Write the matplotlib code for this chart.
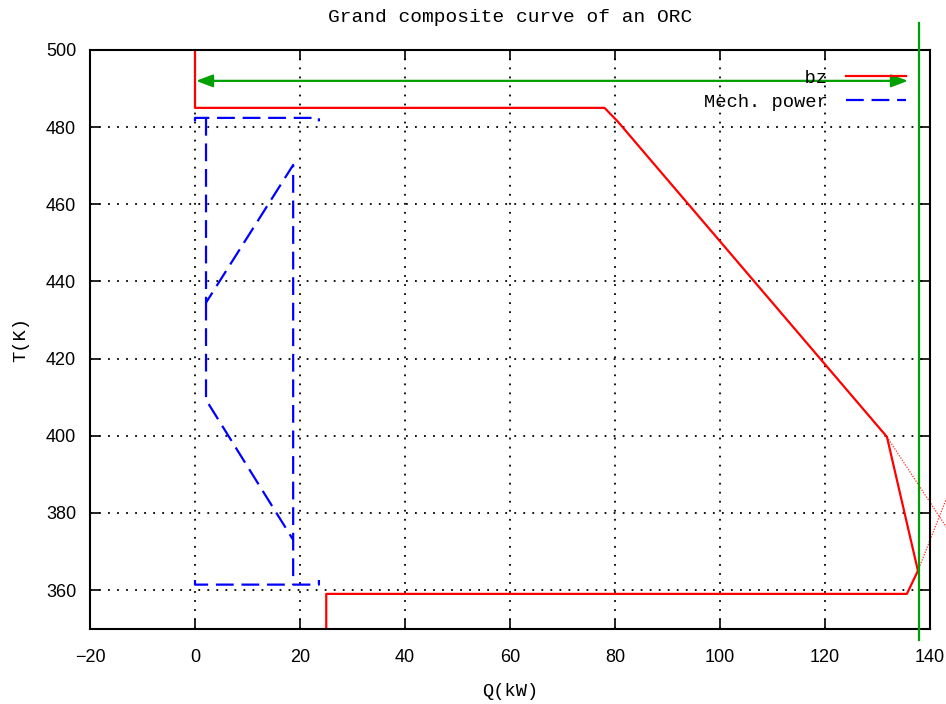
import numpy as np
import matplotlib
matplotlib.use("Agg")
import matplotlib.pyplot as plt

# ---- data ----
red_q = [0, 0, 78, 80.5, 131.8, 137.7, 135.6, 25, 25]
red_T = [500, 485, 485, 481.5, 399.7, 365.0, 359.0, 359.0, 350]

mech_q = [0, 0, 23.6, 23.6, np.nan,
          2.1, 2.1, 18.7, 18.7, np.nan,
          2.1, 2.1, 18.7, np.nan,
          0, 0, 23.6, 23.6]
mech_T = [481.5, 482.4, 482.4, 481.5, np.nan,
          482.4, 434.5, 470.2, 361.4, np.nan,
          434.5, 409.3, 373.0, np.nan,
          362.6, 361.4, 361.4, 362.6]

aux1_q = [131.8, 143.5]
aux1_T = [399.7, 375.5]
aux2_q = [137.7, 143.5]
aux2_T = [365.0, 385.0]

pinch_q = 137.9
pinch_T = [347, 507]
arrow_q = [0.2, 135.8]
arrow_T = 492

xticks = [-20, 0, 20, 40, 60, 80, 100, 120, 140]
yticks = [360, 380, 400, 420, 440, 460, 480, 500]

mono = "Liberation Mono"
sans = "Liberation Sans"

fig = plt.figure(figsize=(9.46, 7.04), dpi=100)
ax = fig.add_axes([90/946, 1-628.6/704, 840/946, 578.6/704])

ax.set_xlim(-20, 140)
ax.set_ylim(350, 500)
ax.set_xticks(xticks)
ax.set_yticks(yticks)
ax.set_xticklabels([str(v).replace('-', '\u2212') for v in xticks], fontfamily=sans, fontsize=13)
ax.set_yticklabels([str(v) for v in yticks], fontfamily=sans, fontsize=13)
ax.tick_params(direction='in', length=7, width=1.2, top=True, right=True, color='black')
ax.tick_params(axis='x', pad=15)
ax.tick_params(axis='y', pad=10)
ax.grid(True, color='black', linestyle=(0, (1, 4)), linewidth=1.3)
for s in ax.spines.values():
    s.set_linewidth(1.5)
    s.set_zorder(5)

ax.plot(red_q, red_T, color='#ff0000', lw=1.6, label='      bz', zorder=3)
ax.plot(mech_q, mech_T, color='#0000ff', lw=1.6, linestyle=(0, (8, 3.5)), label='Mech. power', zorder=3)

ax.plot(aux1_q, aux1_T, color='#ff0000', lw=0.9, linestyle=(0, (1, 1.2)), alpha=0.85, clip_on=False)
ax.plot(aux2_q, aux2_T, color='#ff0000', lw=0.9, linestyle=(0, (1, 1.2)), alpha=0.85, clip_on=False)

ax.plot([pinch_q, pinch_q], pinch_T, color='#00a000', lw=1.6, clip_on=False, zorder=6)
ax.annotate('', xy=(arrow_q[1], arrow_T), xytext=(arrow_q[0], arrow_T),
            arrowprops=dict(arrowstyle='<|-|>,head_length=1.0,head_width=0.38',
                            color='#00a000', lw=1.6, shrinkA=0, shrinkB=0), zorder=4)

leg = ax.legend(loc='upper right', bbox_to_anchor=(0.985, 0.985), markerfirst=False,
                frameon=False, handlelength=3.2, handletextpad=1.0, labelspacing=0.35,
                prop={'family': mono, 'size': 13.5}, borderaxespad=0.2)

ax.set_title('Grand composite curve of an ORC', fontfamily=mono, fontsize=14, pad=20)
ax.set_xlabel('Q(kW)', fontfamily=mono, fontsize=13.5, labelpad=12)
ax.set_ylabel('T(K)', fontfamily=mono, fontsize=13.5, labelpad=12)

fig.savefig('out.png', dpi=100)
